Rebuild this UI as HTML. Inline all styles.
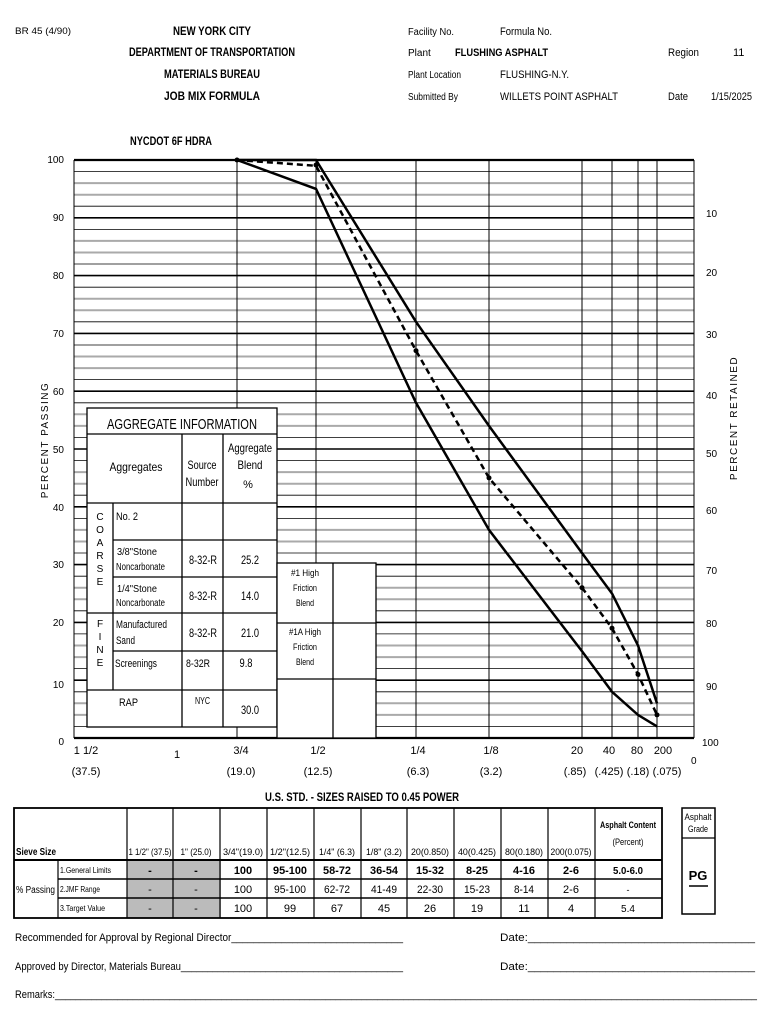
<!DOCTYPE html>
<html><head><meta charset="utf-8"><style>
body{margin:0;background:#fff}
svg{display:block}
text{font-family:"Liberation Sans",sans-serif;fill:#000}
</style></head><body>
<svg width="770" height="1024" viewBox="0 0 770 1024" xmlns="http://www.w3.org/2000/svg">
<!-- header -->
<text x="15" y="34" font-size="9" textLength="56" lengthAdjust="spacingAndGlyphs">BR 45 (4/90)</text>
<g font-size="12" text-anchor="middle" font-weight="bold">
<text x="212" y="35" textLength="78" lengthAdjust="spacingAndGlyphs">NEW YORK CITY</text>
<text x="212" y="56" textLength="166" lengthAdjust="spacingAndGlyphs">DEPARTMENT OF TRANSPORTATION</text>
<text x="212" y="78" textLength="96" lengthAdjust="spacingAndGlyphs">MATERIALS BUREAU</text>
<text x="212" y="100" textLength="96" lengthAdjust="spacingAndGlyphs">JOB MIX FORMULA</text>
</g>
<g font-size="11">
<text x="408" y="35" font-size="10" textLength="46" lengthAdjust="spacingAndGlyphs">Facility No.</text><text x="500" y="35" textLength="52" lengthAdjust="spacingAndGlyphs">Formula No.</text>
<text x="408" y="56" font-size="10">Plant</text><text x="455" y="56" font-weight="bold" textLength="93" lengthAdjust="spacingAndGlyphs">FLUSHING ASPHALT</text>
<text x="668" y="56" textLength="31" lengthAdjust="spacingAndGlyphs">Region</text><text x="733" y="56">11</text>
<text x="408" y="78" font-size="10" textLength="53" lengthAdjust="spacingAndGlyphs">Plant Location</text><text x="500" y="78" textLength="69" lengthAdjust="spacingAndGlyphs">FLUSHING-N.Y.</text>
<text x="408" y="100" font-size="10" textLength="50" lengthAdjust="spacingAndGlyphs">Submitted By</text><text x="500" y="100" textLength="118" lengthAdjust="spacingAndGlyphs">WILLETS POINT ASPHALT</text>
<text x="668" y="100" textLength="20" lengthAdjust="spacingAndGlyphs">Date</text><text x="711" y="100" textLength="41" lengthAdjust="spacingAndGlyphs">1/15/2025</text>
</g>
<text x="130" y="145" font-size="12" font-weight="bold" textLength="82" lengthAdjust="spacingAndGlyphs">NYCDOT 6F HDRA</text>

<!-- grid -->
<g stroke="#000" stroke-width="0.8">
<line x1="74" x2="694" y1="726.4" y2="726.4"/><line x1="74" x2="694" y1="691.8" y2="691.8"/>
<line x1="74" x2="694" y1="668.6" y2="668.6"/><line x1="74" x2="694" y1="633.9" y2="633.9"/>
<line x1="74" x2="694" y1="610.8" y2="610.8"/><line x1="74" x2="694" y1="576.2" y2="576.2"/>
<line x1="74" x2="694" y1="553" y2="553"/><line x1="74" x2="694" y1="518.4" y2="518.4"/>
<line x1="74" x2="694" y1="495.2" y2="495.2"/><line x1="74" x2="694" y1="460.6" y2="460.6"/>
<line x1="74" x2="694" y1="437.4" y2="437.4"/><line x1="74" x2="694" y1="402.8" y2="402.8"/>
<line x1="74" x2="694" y1="379.6" y2="379.6"/><line x1="74" x2="694" y1="345" y2="345"/>
<line x1="74" x2="694" y1="321.8" y2="321.8"/><line x1="74" x2="694" y1="287.2" y2="287.2"/>
<line x1="74" x2="694" y1="264" y2="264"/><line x1="74" x2="694" y1="229.4" y2="229.4"/>
<line x1="74" x2="694" y1="206.2" y2="206.2"/><line x1="74" x2="694" y1="171.6" y2="171.6"/>
</g>
<g stroke="#aaa" stroke-width="2">
<line x1="74" x2="694" y1="714.9" y2="714.9"/><line x1="74" x2="694" y1="703.3" y2="703.3"/>
<line x1="74" x2="694" y1="657.1" y2="657.1"/><line x1="74" x2="694" y1="645.5" y2="645.5"/>
<line x1="74" x2="694" y1="599.3" y2="599.3"/><line x1="74" x2="694" y1="587.7" y2="587.7"/>
<line x1="74" x2="694" y1="541.5" y2="541.5"/><line x1="74" x2="694" y1="529.9" y2="529.9"/>
<line x1="74" x2="694" y1="483.7" y2="483.7"/><line x1="74" x2="694" y1="472.1" y2="472.1"/>
<line x1="74" x2="694" y1="425.9" y2="425.9"/><line x1="74" x2="694" y1="414.3" y2="414.3"/>
<line x1="74" x2="694" y1="368.1" y2="368.1"/><line x1="74" x2="694" y1="356.5" y2="356.5"/>
<line x1="74" x2="694" y1="310.3" y2="310.3"/><line x1="74" x2="694" y1="298.7" y2="298.7"/>
<line x1="74" x2="694" y1="252.5" y2="252.5"/><line x1="74" x2="694" y1="240.9" y2="240.9"/>
<line x1="74" x2="694" y1="194.7" y2="194.7"/><line x1="74" x2="694" y1="183.1" y2="183.1"/>
</g>
<g stroke="#000" stroke-width="1.6">
<line x1="74" x2="694" y1="680.2" y2="680.2"/><line x1="74" x2="694" y1="622.4" y2="622.4"/>
<line x1="74" x2="694" y1="564.6" y2="564.6"/><line x1="74" x2="694" y1="506.8" y2="506.8"/>
<line x1="74" x2="694" y1="449" y2="449"/><line x1="74" x2="694" y1="391.2" y2="391.2"/>
<line x1="74" x2="694" y1="333.4" y2="333.4"/><line x1="74" x2="694" y1="275.6" y2="275.6"/>
<line x1="74" x2="694" y1="217.8" y2="217.8"/><line x1="74" x2="694" y1="160" y2="160" stroke-width="2.2"/>
<line x1="74" x2="694" y1="738" y2="738" stroke-width="2.2"/>
</g>
<g stroke="#000" stroke-width="1">
<line x1="74" x2="74" y1="160" y2="738"/><line x1="694" x2="694" y1="160" y2="738"/>
<line x1="237" x2="237" y1="160" y2="738"/><line x1="316" x2="316" y1="160" y2="738"/>
<line x1="416" x2="416" y1="160" y2="738"/><line x1="489" x2="489" y1="160" y2="738"/>
<line x1="582" x2="582" y1="160" y2="738"/><line x1="612" x2="612" y1="160" y2="738"/>
<line x1="638" x2="638" y1="160" y2="738"/><line x1="657" x2="657" y1="160" y2="738"/>
</g>
<!-- series -->
<g fill="none" stroke="#000" stroke-width="2.5">
<polyline points="237,160 316,160 416,321.8 489,425.9 582,553 612,593.5 638,645.5 657,703.3"/>
<polyline points="237,160 316,188.9 416,402.8 489,529.9 582,651.3 612,691.8 638,714.9 657,726.4"/>
<polyline points="237,160 316,165.8 416,350.7 489,477.9 582,587.7 612,628.2 638,674.4 657,714.9" stroke-dasharray="6,4"/>
</g>
<g fill="#000"><circle cx="237" cy="160" r="2.5"/><circle cx="316" cy="165" r="2.5"/><circle cx="416" cy="350.7" r="2.5"/><circle cx="489" cy="477.9" r="2.5"/><circle cx="582" cy="587.7" r="2.5"/><circle cx="612" cy="628.2" r="2.5"/><circle cx="638" cy="674.4" r="2.5"/><circle cx="657" cy="714.9" r="2.5"/></g>

<!-- left axis -->
<g font-size="10" text-anchor="end">
<text x="64" y="163">100</text><text x="64" y="221">90</text><text x="64" y="279">80</text>
<text x="64" y="337">70</text><text x="64" y="395">60</text><text x="64" y="453">50</text>
<text x="64" y="511">40</text><text x="64" y="568">30</text><text x="64" y="626">20</text>
<text x="64" y="688">10</text><text x="64" y="745">0</text>
</g>
<text transform="translate(48,440) rotate(-90)" font-size="10" text-anchor="middle" style="letter-spacing:1.5px">PERCENT PASSING</text>
<g font-size="10">
<text x="706" y="217">10</text><text x="706" y="276">20</text><text x="706" y="338">30</text>
<text x="706" y="399">40</text><text x="706" y="457">50</text><text x="706" y="514">60</text>
<text x="706" y="574">70</text><text x="706" y="627">80</text><text x="706" y="690">90</text>
<text x="702" y="746">100</text><text x="691" y="764">0</text>
</g>
<text transform="translate(737,418) rotate(-90)" font-size="10" text-anchor="middle" style="letter-spacing:1.5px">PERCENT RETAINED</text>
<!-- x labels -->
<g font-size="11" text-anchor="middle">
<text x="86" y="754">1 1/2</text><text x="86" y="775">(37.5)</text>
<text x="177" y="758">1</text>
<text x="241" y="754">3/4</text><text x="241" y="775">(19.0)</text>
<text x="318" y="754">1/2</text><text x="318" y="775">(12.5)</text>
<text x="418" y="754">1/4</text><text x="418" y="775">(6.3)</text>
<text x="491" y="754">1/8</text><text x="491" y="775">(3.2)</text>
<text x="577" y="754">20</text><text x="575" y="775">(.85)</text>
<text x="609" y="754">40</text><text x="609" y="775">(.425)</text>
<text x="637" y="754">80</text><text x="638" y="775">(.18)</text>
<text x="663" y="754">200</text><text x="667" y="775">(.075)</text>
</g>
<text x="362" y="801" font-size="12" font-weight="bold" text-anchor="middle" textLength="194" lengthAdjust="spacingAndGlyphs">U.S. STD. - SIZES RAISED TO 0.45 POWER</text>

<!-- aggregate table -->
<g fill="#fff" stroke="#000" stroke-width="1.3">
<rect x="87" y="408" width="190" height="319"/>
<rect x="277" y="563" width="99" height="175"/>
</g>
<g stroke="#000" stroke-width="1.3">
<line x1="87" x2="277" y1="434" y2="434"/><line x1="87" x2="277" y1="503" y2="503"/>
<line x1="113" x2="277" y1="540" y2="540"/><line x1="113" x2="277" y1="577" y2="577"/>
<line x1="87" x2="277" y1="613" y2="613"/><line x1="113" x2="277" y1="651" y2="651"/>
<line x1="87" x2="277" y1="690" y2="690"/>
<line x1="113" x2="113" y1="503" y2="690"/><line x1="182" x2="182" y1="434" y2="727"/>
<line x1="223" x2="223" y1="434" y2="727"/>
<line x1="333" x2="333" y1="563" y2="738"/><line x1="277" x2="376" y1="623" y2="623"/>
<line x1="277" x2="376" y1="679" y2="679"/>
</g>
<text x="182" y="429" font-size="15" text-anchor="middle" textLength="150" lengthAdjust="spacingAndGlyphs">AGGREGATE INFORMATION</text>
<g font-size="12" text-anchor="middle">
<text x="136" y="471" textLength="53" lengthAdjust="spacingAndGlyphs">Aggregates</text>
<text x="202" y="469" textLength="29" lengthAdjust="spacingAndGlyphs">Source</text><text x="202" y="486" textLength="33" lengthAdjust="spacingAndGlyphs">Number</text>
<text x="250" y="452" textLength="44" lengthAdjust="spacingAndGlyphs">Aggregate</text><text x="250" y="469" textLength="25" lengthAdjust="spacingAndGlyphs">Blend</text><text x="248" y="488" font-size="11">%</text>
</g>
<g font-size="10" text-anchor="middle">
<text x="100" y="520">C</text><text x="100" y="533">O</text><text x="100" y="546">A</text><text x="100" y="559">R</text><text x="100" y="572">S</text><text x="100" y="585">E</text>
<text x="100" y="627">F</text><text x="100" y="640">I</text><text x="100" y="653">N</text><text x="100" y="666">E</text>
</g>
<g font-size="10">
<text x="116" y="520" font-size="11" textLength="22" lengthAdjust="spacingAndGlyphs">No. 2</text>
<text x="117" y="555" textLength="40" lengthAdjust="spacingAndGlyphs">3/8"Stone</text><text x="116" y="570" textLength="49" lengthAdjust="spacingAndGlyphs">Noncarbonate</text>
<text x="117" y="592" textLength="40" lengthAdjust="spacingAndGlyphs">1/4"Stone</text><text x="116" y="606" textLength="49" lengthAdjust="spacingAndGlyphs">Noncarbonate</text>
<text x="116" y="628" font-size="11" textLength="51" lengthAdjust="spacingAndGlyphs">Manufactured</text><text x="116" y="644" font-size="11" textLength="19" lengthAdjust="spacingAndGlyphs">Sand</text>
<text x="115" y="667" font-size="11" textLength="42" lengthAdjust="spacingAndGlyphs">Screenings</text>
<text x="119" y="706" font-size="11" textLength="19" lengthAdjust="spacingAndGlyphs">RAP</text>
<text x="186" y="667" font-size="11" textLength="24" lengthAdjust="spacingAndGlyphs">8-32R</text>
<text x="195" y="704" font-size="10" textLength="15" lengthAdjust="spacingAndGlyphs">NYC</text>
</g>
<g font-size="12" text-anchor="middle">
<text x="203" y="564" textLength="28" lengthAdjust="spacingAndGlyphs">8-32-R</text><text x="250" y="564" textLength="18" lengthAdjust="spacingAndGlyphs">25.2</text>
<text x="203" y="600" textLength="28" lengthAdjust="spacingAndGlyphs">8-32-R</text><text x="250" y="600" textLength="18" lengthAdjust="spacingAndGlyphs">14.0</text>
<text x="203" y="637" textLength="28" lengthAdjust="spacingAndGlyphs">8-32-R</text><text x="250" y="637" textLength="18" lengthAdjust="spacingAndGlyphs">21.0</text>
<text x="246" y="667" textLength="13" lengthAdjust="spacingAndGlyphs">9.8</text>
<text x="250" y="714" textLength="18" lengthAdjust="spacingAndGlyphs">30.0</text>
</g>
<g font-size="9" text-anchor="middle">
<text x="305" y="576" textLength="28" lengthAdjust="spacingAndGlyphs">#1 High</text><text x="305" y="591" textLength="24" lengthAdjust="spacingAndGlyphs">Friction</text><text x="305" y="606" textLength="18" lengthAdjust="spacingAndGlyphs">Blend</text>
<text x="305" y="635" textLength="32" lengthAdjust="spacingAndGlyphs">#1A High</text><text x="305" y="650" textLength="24" lengthAdjust="spacingAndGlyphs">Friction</text><text x="305" y="665" textLength="18" lengthAdjust="spacingAndGlyphs">Blend</text>
</g>

<!-- bottom table -->
<rect x="127" y="860" width="94" height="58" fill="#bbb"/>
<g fill="none" stroke="#000" stroke-width="1.2">
<rect x="14" y="808" width="648" height="110" stroke-width="1.8"/>
<rect x="682" y="808" width="33" height="106" stroke-width="1.5"/>
</g>
<g stroke="#000" stroke-width="1.2">
<line x1="14" x2="662" y1="860" y2="860" stroke-width="2"/>
<line x1="58" x2="662" y1="879" y2="879" stroke-width="1.6"/>
<line x1="58" x2="662" y1="898" y2="898" stroke-width="1.6"/>
<line x1="58" x2="58" y1="860" y2="918"/>
<line x1="127" x2="127" y1="808" y2="918"/><line x1="173" x2="173" y1="808" y2="918"/>
<line x1="220" x2="220" y1="808" y2="918"/><line x1="267" x2="267" y1="808" y2="918"/>
<line x1="314" x2="314" y1="808" y2="918"/><line x1="361" x2="361" y1="808" y2="918"/>
<line x1="407" x2="407" y1="808" y2="918"/><line x1="454" x2="454" y1="808" y2="918"/>
<line x1="501" x2="501" y1="808" y2="918"/><line x1="548" x2="548" y1="808" y2="918"/>
<line x1="595" x2="595" y1="808" y2="918"/>
<line x1="682" x2="715" y1="838" y2="838"/>
<line x1="689" x2="708" y1="886" y2="886" stroke-width="1.5"/>
</g>
<g font-size="9" text-anchor="middle">
<text x="150" y="855" textLength="43" lengthAdjust="spacingAndGlyphs">1 1/2" (37.5)</text><text x="196" y="855" textLength="31" lengthAdjust="spacingAndGlyphs">1" (25.0)</text>
<text x="243" y="855" textLength="40" lengthAdjust="spacingAndGlyphs">3/4"(19.0)</text><text x="290" y="855" textLength="40" lengthAdjust="spacingAndGlyphs">1/2"(12.5)</text>
<text x="337" y="855" textLength="36" lengthAdjust="spacingAndGlyphs">1/4" (6.3)</text><text x="384" y="855" textLength="36" lengthAdjust="spacingAndGlyphs">1/8" (3.2)</text>
<text x="430" y="855" textLength="38" lengthAdjust="spacingAndGlyphs">20(0.850)</text><text x="477" y="855" textLength="38" lengthAdjust="spacingAndGlyphs">40(0.425)</text>
<text x="524" y="855" textLength="38" lengthAdjust="spacingAndGlyphs">80(0.180)</text><text x="571" y="855" textLength="41" lengthAdjust="spacingAndGlyphs">200(0.075)</text>
<text x="628" y="828" font-weight="bold" textLength="56" lengthAdjust="spacingAndGlyphs">Asphalt Content</text><text x="628" y="845" textLength="31" lengthAdjust="spacingAndGlyphs">(Percent)</text>
<text x="698" y="820" textLength="27" lengthAdjust="spacingAndGlyphs">Asphalt</text><text x="698" y="832" textLength="20" lengthAdjust="spacingAndGlyphs">Grade</text>
</g>
<text x="16" y="855" font-size="10" font-weight="bold" textLength="40" lengthAdjust="spacingAndGlyphs">Sieve Size</text>
<text x="16" y="893" font-size="10" textLength="39" lengthAdjust="spacingAndGlyphs">% Passing</text>
<g font-size="8.5">
<text x="60" y="873" textLength="51" lengthAdjust="spacingAndGlyphs">1.General Limits</text><text x="60" y="892" textLength="40" lengthAdjust="spacingAndGlyphs">2.JMF Range</text><text x="60" y="911" textLength="45" lengthAdjust="spacingAndGlyphs">3.Target Value</text>
</g>
<g font-size="11" text-anchor="middle" font-weight="bold">
<text x="150" y="874">-</text><text x="196" y="874">-</text>
<text x="243" y="874">100</text><text x="290" y="874" textLength="34" lengthAdjust="spacingAndGlyphs">95-100</text><text x="337" y="874" textLength="28" lengthAdjust="spacingAndGlyphs">58-72</text>
<text x="384" y="874" textLength="28" lengthAdjust="spacingAndGlyphs">36-54</text><text x="430" y="874" textLength="28" lengthAdjust="spacingAndGlyphs">15-32</text><text x="477" y="874" textLength="22" lengthAdjust="spacingAndGlyphs">8-25</text>
<text x="524" y="874" textLength="22" lengthAdjust="spacingAndGlyphs">4-16</text><text x="571" y="874">2-6</text><text x="628" y="874" font-size="10" textLength="30" lengthAdjust="spacingAndGlyphs">5.0-6.0</text>
</g>
<g font-size="11" text-anchor="middle">
<text x="150" y="893">-</text><text x="196" y="893">-</text>
<text x="243" y="893">100</text><text x="290" y="893" textLength="32" lengthAdjust="spacingAndGlyphs">95-100</text><text x="337" y="893" textLength="26" lengthAdjust="spacingAndGlyphs">62-72</text>
<text x="384" y="893" textLength="26" lengthAdjust="spacingAndGlyphs">41-49</text><text x="430" y="893" textLength="26" lengthAdjust="spacingAndGlyphs">22-30</text><text x="477" y="893" textLength="26" lengthAdjust="spacingAndGlyphs">15-23</text>
<text x="524" y="893" textLength="20" lengthAdjust="spacingAndGlyphs">8-14</text><text x="571" y="893">2-6</text><text x="628" y="893" font-size="9">-</text>
<text x="150" y="912">-</text><text x="196" y="912">-</text>
<text x="243" y="912">100</text><text x="290" y="912">99</text><text x="337" y="912">67</text>
<text x="384" y="912">45</text><text x="430" y="912">26</text><text x="477" y="912">19</text>
<text x="524" y="912">11</text><text x="571" y="912">4</text><text x="628" y="912" font-size="10">5.4</text>
</g>
<text x="698" y="880" font-size="13" font-weight="bold" text-anchor="middle">PG</text>

<g font-size="11">
<text x="15" y="941" textLength="388" lengthAdjust="spacingAndGlyphs">Recommended for Approval by Regional Director_______________________________</text>
<text x="500" y="941" textLength="255" lengthAdjust="spacingAndGlyphs">Date:___________________________________</text>
<text x="15" y="970" textLength="388" lengthAdjust="spacingAndGlyphs">Approved by Director, Materials Bureau__________________________________________</text>
<text x="500" y="970" textLength="255" lengthAdjust="spacingAndGlyphs">Date:___________________________________</text>
<text x="15" y="998" textLength="742" lengthAdjust="spacingAndGlyphs">Remarks:_______________________________________________________________________________________________________________________________________</text>
</g>
</svg>
</body></html>
